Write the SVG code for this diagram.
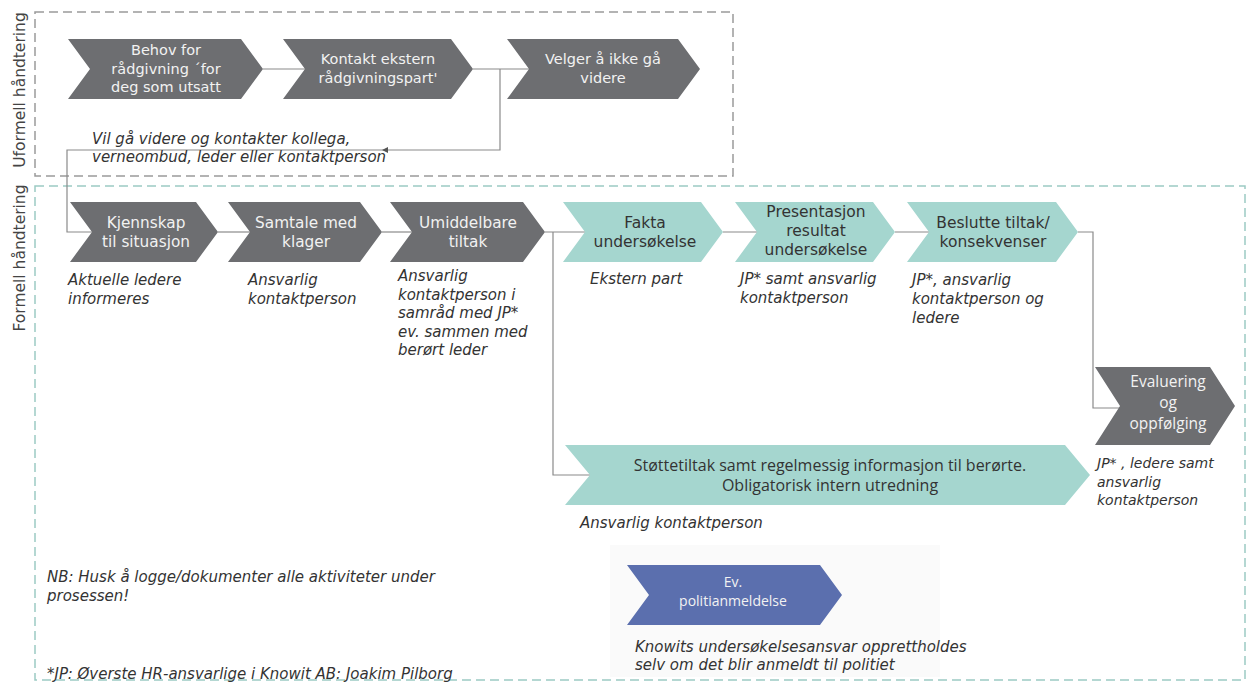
<svg xmlns="http://www.w3.org/2000/svg" width="1251" height="684" viewBox="0 0 1251 684">
<defs>
<style>
.gray{fill:#6d6e71}
.teal{fill:#a5d6cf}
.blue{fill:#5b6fae}
.wt{fill:#f2f2f2;font-family:"DejaVu Sans",sans-serif;font-size:14.5px;text-anchor:middle}
.wf{font-size:15.3px}
.dt{fill:#333;font-family:"DejaVu Sans",sans-serif;font-size:15.5px;text-anchor:middle}
.os{font-family:"Open Sans",sans-serif}
.ev{font-size:15.5px}
.note{fill:#333;font-family:"DejaVu Sans",sans-serif;font-size:15px;font-style:italic}
.lane{fill:#444;font-family:"DejaVu Sans",sans-serif;font-size:15.5px;text-anchor:middle}
.conn{fill:none;stroke:#8a8a8a;stroke-width:1.2}
</style>
<marker id="arr" markerWidth="8" markerHeight="8" refX="6" refY="4" orient="auto" markerUnits="userSpaceOnUse">
<path d="M0,1 L6,4 L0,7 z" fill="#555"/>
</marker>
</defs>
<rect width="1251" height="684" fill="#fff"/>

<g id="lanes">
<rect x="35" y="12" width="698" height="164" fill="none" stroke="#9a9a9a" stroke-width="1.5" stroke-dasharray="9,5"/>
<rect x="35" y="186" width="1210" height="494" fill="none" stroke="#9ccac3" stroke-width="1.5" stroke-dasharray="9,5"/>
<text class="lane" transform="translate(25,90) rotate(-90)">Uformell håndtering</text>
<text class="lane" transform="translate(25,258) rotate(-90)">Formell håndtering</text>
</g>

<rect x="610" y="545" width="330" height="132" fill="#fafafa"/>

<g id="connectors">
<path class="conn" d="M263,69 H305"/>
<path class="conn" d="M473,69 H529"/>
<path class="conn" d="M500,69 V150 H382" marker-end="url(#arr)"/>
<path class="conn" d="M382,150 H67 V232 H92"/>
<path class="conn" d="M218,232 H250"/>
<path class="conn" d="M382,232 H412"/>
<path class="conn" d="M545,232 H585"/>
<path class="conn" d="M553,232 V475 H590"/>
<path class="conn" d="M723,232 H757"/>
<path class="conn" d="M895,232 H929"/>
<path class="conn" d="M1078,232 H1093 V408 H1120"/>
</g>

<g id="n-behov">
<polygon class="gray" points="68,39 241,39 263,69 241,99 68,99 90,69"/>
<text class="wt" x="166" y="55">Behov for</text>
<text class="wt" x="166" y="73.5">rådgivning ´for</text>
<text class="wt" x="166" y="92">deg som utsatt</text>
</g>
<g id="n-kontakt">
<polygon class="gray" points="283,39 451,39 473,69 451,99 283,99 305,69"/>
<text class="wt" x="378" y="64">Kontakt ekstern</text>
<text class="wt" x="378" y="83">rådgivningspart'</text>
</g>
<g id="n-velger">
<polygon class="gray" points="507,39 678,39 700,69 678,99 507,99 529,69"/>
<text class="wt" x="603" y="64">Velger å ikke gå</text>
<text class="wt" x="603" y="83">videre</text>
</g>
<text class="note" x="92" y="144">Vil gå videre og kontakter kollega,</text>
<text class="note" x="92" y="162">verneombud, leder eller kontaktperson</text>

<g id="n-kjennskap">
<polygon class="gray" points="70,202 196,202 218,232 196,262 70,262 92,232"/>
<text class="wt wf" x="146" y="228">Kjennskap</text>
<text class="wt wf" x="146" y="247">til situasjon</text>
<text class="note" x="68" y="285">Aktuelle ledere</text>
<text class="note" x="68" y="304">informeres</text>
</g>
<g id="n-samtale">
<polygon class="gray" points="228,202 360,202 382,232 360,262 228,262 250,232"/>
<text class="wt wf" x="306" y="228">Samtale med</text>
<text class="wt wf" x="306" y="247">klager</text>
<text class="note" x="248" y="285">Ansvarlig</text>
<text class="note" x="248" y="304">kontaktperson</text>
</g>
<g id="n-umiddelbare">
<polygon class="gray" points="390,202 523,202 545,232 523,262 390,262 412,232"/>
<text class="wt wf" x="468" y="228">Umiddelbare</text>
<text class="wt wf" x="468" y="247">tiltak</text>
<text class="note" x="398" y="281">Ansvarlig</text>
<text class="note" x="398" y="299.5">kontaktperson i</text>
<text class="note" x="398" y="318">samråd med JP*</text>
<text class="note" x="398" y="336.5">ev. sammen med</text>
<text class="note" x="398" y="355">berørt leder</text>
</g>
<g id="n-fakta">
<polygon class="teal" points="563,202 701,202 723,232 701,262 563,262 585,232"/>
<text class="dt" x="645" y="228">Fakta</text>
<text class="dt" x="645" y="247">undersøkelse</text>
<text class="note" x="590" y="284">Ekstern part</text>
</g>
<g id="n-presentasjon">
<polygon class="teal" points="735,202 873,202 895,232 873,262 735,262 757,232"/>
<text class="dt" x="816" y="217">Presentasjon</text>
<text class="dt" x="816" y="236">resultat</text>
<text class="dt" x="816" y="255">undersøkelse</text>
<text class="note" x="740" y="284">JP* samt ansvarlig</text>
<text class="note" x="740" y="303">kontaktperson</text>
</g>
<g id="n-beslutte">
<polygon class="teal" points="907,202 1056,202 1078,232 1056,262 907,262 929,232"/>
<text class="dt" x="993" y="228">Beslutte tiltak/</text>
<text class="dt" x="993" y="247">konsekvenser</text>
<text class="note" x="912" y="285">JP*, ansvarlig</text>
<text class="note" x="912" y="304">kontaktperson og</text>
<text class="note" x="912" y="323">ledere</text>
</g>
<g id="n-evaluering">
<polygon class="gray" points="1095,367 1210,367 1235,406 1210,445 1095,445 1120,406"/>
<text class="wt os ev" x="1168" y="387">Evaluering</text>
<text class="wt os ev" x="1168" y="408">og</text>
<text class="wt os ev" x="1168" y="429">oppfølging</text>
<text class="note" x="1097" y="468" style="font-size:14px">JP* , ledere samt</text>
<text class="note" x="1097" y="487" style="font-size:14px">ansvarlig</text>
<text class="note" x="1097" y="505" style="font-size:14px">kontaktperson</text>
</g>
<g id="n-stotte">
<polygon class="teal" points="565,445 1065,445 1090,475 1065,505 565,505 590,475"/>
<text class="dt os" x="830" y="471" style="font-size:16px">Støttetiltak samt regelmessig informasjon til berørte.</text>
<text class="dt os" x="830" y="491" style="font-size:16px">Obligatorisk intern utredning</text>
<text class="note" x="580" y="528">Ansvarlig kontaktperson</text>
</g>
<g id="n-politi">
<polygon class="blue" points="627,565 820,565 842,595 820,625 627,625 649,595"/>
<text class="wt os" x="733" y="587" style="font-size:14px">Ev.</text>
<text class="wt os" x="733" y="606" style="font-size:14px">politianmeldelse</text>
<text class="note" x="635" y="652">Knowits undersøkelsesansvar opprettholdes</text>
<text class="note" x="635" y="670">selv om det blir anmeldt til politiet</text>
</g>
<g id="notes">
<text class="note" x="47" y="582">NB: Husk å logge/dokumenter alle aktiviteter under</text>
<text class="note" x="47" y="601">prosessen!</text>
<text class="note" x="47" y="679">*JP: Øverste HR-ansvarlige i Knowit AB: Joakim Pilborg</text>
</g>
</svg>
